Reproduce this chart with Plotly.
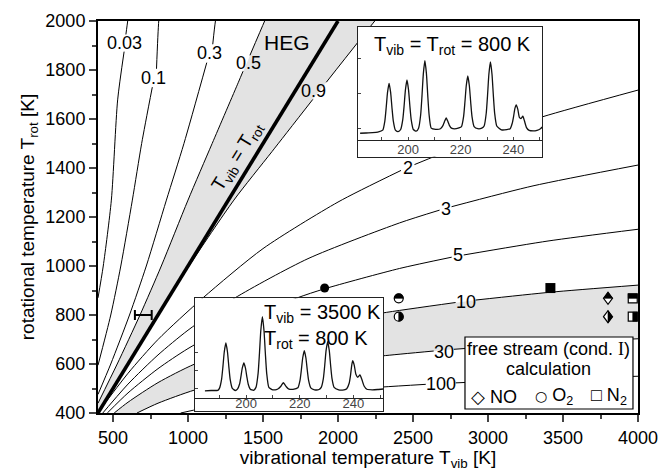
import plotly.graph_objects as go

FONT = "Liberation Sans, Arial, sans-serif"
BAND = "#e3e3e3"

# ---- iso-ratio curves, (T_vib, T_rot) in K; None leaves room for the label ----
r003_tv = [400, 435, 489, 531, 574, None, 586, 598, 610]
r003_tr = [870, 1000, 1269, 1678, 1875, None, 1945, 2000, 2050]
r01_tv = [400, 485, 552, 629, 691, 762, None, 790, 805, 820]
r01_tr = [595, 800, 1000, 1269, 1500, 1730, None, 1805, 2000, 2080]
r03_tv = [400, 485, 610, 722, 856, 973, 1125, None, 1165, 1183, 1200]
r03_tr = [476, 600, 800, 1000, 1269, 1500, 1830, None, 1905, 2000, 2050]
r05_tv = [400, 528, 680, 822, 1000, 1161, 1336, 1367, None, 1413, 1511, 1550]
r05_tr = [440, 600, 800, 1000, 1269, 1500, 1750, 1795, None, 1860, 2000, 2055]
r09_tv = [400, 700, 1005, 1306, 1560, 1832, None, 1922, 2245, 2310]
r09_tr = [400, 697, 998, 1269, 1467, 1680, None, 1750, 2000, 2050]
r2_tv = [400, 600, 800, 1098, 1500, 2000, 2420, None, 2510, 3000, 3363, 4000]
r2_tr = [402, 562, 700, 869, 1071, 1261, 1390, None, 1414, 1534, 1609, 1718]
r3_tv = [400, 600, 800, 1000, 1311, 1800, 2411, 2677, None, 2757, 3300, 4000]
r3_tr = [377, 518, 637, 738, 869, 1030, 1176, 1228, None, 1242, 1327, 1412]
r5_tv = [462, 600, 800, 1000, 1300, 1724, 1911, 2411, 2758, None, 2838, 3400, 4000]
r5_tr = [400, 482, 581, 663, 762, 869, 907, 990, 1036, None, 1045, 1102, 1150]
r10_tv = [508, 600, 800, 1045, 1500, 2000, 2295, 2784, None, 2918, 3416, 4000]
r10_tr = [400, 444, 524, 600, 700, 775, 808, 851, None, 861, 893, 922]
r30_tv = [660, 800, 1045, 1500, 2000, 2295, 2638, None, 2772, 3300, 4000]
r30_tr = [400, 440, 494, 563, 612, 633, 653, None, 660, 682, 703]
r100_tv = [951, 1200, 1600, 2000, 2295, 2585, None, 2785, 3500, 4000]
r100_tr = [400, 432, 468, 492, 506, 517, None, 523, 541, 550]

label_text = ["0.03", "0.1", "0.3", "0.5", "0.9", "2", "3", "5", "10", "30", "100"]
label_tv = [579, 772, 1145, 1400, 1838, 2464, 2717, 2798, 2851, 2705, 2685]
label_tr = [1910, 1768, 1868, 1827, 1714, 1398, 1233, 1044, 854, 649, 518]

# equilibrium line T_vib = T_rot
diag_t = [400, 2000]

# HEG point with its T_vib uncertainty
heg_tv = [702]
heg_tr = [800]
heg_err = [56]

# free stream, filled symbols
o2_free_tv, o2_free_tr = [1911], [910]
n2_free_tv, n2_free_tr = [3416], [910]
# half-filled symbols: marker kind, T_vib, T_rot, black half
half_kind = ["circle", "circle", "diamond", "diamond", "square", "square"]
half_tv = [2405, 2405, 3800, 3800, 3965, 3965]
half_tr = [868, 793, 868, 793, 868, 793]
half_side = ["top", "right", "top", "right", "top", "right"]

# ---- inset spectra (wavelength nm, relative intensity) ----
spec_800_wl = [181.8, 184.0, 186.5, 188.5,
               190.4, 191.2, 191.7, 192.2, 192.8, 193.4, 193.9, 194.4, 195.2, 196.2,
               197.2, 198.0, 198.5, 199.0, 199.6, 200.2, 200.7, 201.2, 202.0, 203.1,
               204.0, 204.8, 205.3, 205.8, 206.4, 207.0, 207.5, 208.0, 208.8, 210.5,
               212.3, 213.3, 213.8, 214.5, 215.2, 215.7, 216.5, 218.3,
               220.3, 221.1, 221.6, 222.1, 222.7, 223.3, 223.8, 224.3, 225.1, 226.5, 228.0,
               228.9, 229.7, 230.2, 230.7, 231.3, 231.9, 232.4, 232.9, 233.7, 235.5, 237.5,
               238.8, 239.6, 240.1, 240.6, 241.1, 241.7, 242.3, 242.9, 243.6, 244.2, 245.0,
               246.0, 247.5, 249.0, 250.3, 251.0]
spec_800_i = [0.060, 0.062, 0.065, 0.070,
              0.087, 0.169, 0.285, 0.418, 0.500, 0.418, 0.285, 0.169, 0.087, 0.075,
              0.093, 0.180, 0.300, 0.440, 0.530, 0.440, 0.300, 0.180, 0.093, 0.078,
              0.105, 0.223, 0.390, 0.582, 0.700, 0.582, 0.390, 0.223, 0.105, 0.095,
              0.100, 0.130, 0.160, 0.195, 0.160, 0.130, 0.105, 0.100,
              0.119, 0.207, 0.333, 0.477, 0.565, 0.477, 0.333, 0.207, 0.119, 0.100, 0.105,
              0.124, 0.236, 0.395, 0.578, 0.690, 0.578, 0.395, 0.236, 0.124, 0.090, 0.092,
              0.100, 0.150, 0.210, 0.280, 0.310, 0.270, 0.200, 0.190, 0.210, 0.170, 0.110,
              0.085, 0.080, 0.085, 0.100, 0.115]

spec_3500_wl = [184.7, 187.0, 189.5,
                190.1, 190.9, 191.4, 191.9, 192.5, 193.1, 193.6, 194.1, 194.9, 196.0,
                196.8, 197.6, 198.1, 198.6, 199.2, 199.8, 200.3, 200.8, 201.6, 202.8,
                203.7, 204.5, 205.0, 205.5, 206.1, 206.7, 207.2, 207.7, 208.5, 210.0, 211.6,
                212.0, 212.8, 213.3, 213.9, 214.5, 215.0, 215.8, 217.5,
                219.3, 220.1, 220.6, 221.1, 221.7, 222.3, 222.8, 223.3, 224.1, 225.5, 227.2,
                228.0, 228.8, 229.3, 229.8, 230.4, 231.0, 231.5, 232.0, 232.8, 234.5, 236.5,
                237.5, 238.4, 238.9, 239.3, 239.7, 240.3, 240.9, 241.6, 242.4, 243.1, 244.0,
                245.0, 247.0, 249.0, 251.0]
spec_3500_i = [0.075, 0.078, 0.080,
               0.099, 0.189, 0.317, 0.463, 0.553, 0.463, 0.317, 0.189, 0.099, 0.078,
               0.091, 0.143, 0.217, 0.301, 0.353, 0.301, 0.217, 0.143, 0.091, 0.080,
               0.109, 0.249, 0.448, 0.676, 0.816, 0.676, 0.448, 0.249, 0.109, 0.085, 0.090,
               0.095, 0.115, 0.135, 0.156, 0.135, 0.115, 0.095, 0.090,
               0.105, 0.179, 0.283, 0.403, 0.476, 0.403, 0.283, 0.179, 0.105, 0.085, 0.088,
               0.109, 0.200, 0.328, 0.476, 0.566, 0.476, 0.328, 0.200, 0.109, 0.085, 0.085,
               0.095, 0.150, 0.230, 0.320, 0.376, 0.330, 0.240, 0.210, 0.233, 0.190, 0.120,
               0.090, 0.085, 0.088, 0.093]

wl_range = [181, 251]
wl_ticks = [200, 220, 240]
wl_minor = [190, 200, 210, 220, 230, 240, 250]
int_ticks_800 = [0.1, 0.41, 0.72]
int_ticks_3500 = [0.1, 0.28, 0.46]

x_ticks = [500, 1000, 1500, 2000, 2500, 3000, 3500, 4000]
x_minor = [750, 1250, 1750, 2250, 2750, 3250, 3750]
y_ticks = [400, 600, 800, 1000, 1200, 1400, 1600, 1800, 2000]
y_minor = [500, 700, 900, 1100, 1300, 1500, 1700, 1900]


def solid(a):
    return [v for v in a if v is not None]


fig = go.Figure()

# shaded bands
for lo_tv, lo_tr, hi_tv, hi_tr in [(r05_tv, r05_tr, r09_tv, r09_tr),
                                   (r10_tv, r10_tr, r30_tv, r30_tr)]:
    fig.add_trace(go.Scatter(
        x=solid(lo_tv) + solid(hi_tv)[::-1], y=solid(lo_tr) + solid(hi_tr)[::-1],
        fill="toself", fillcolor=BAND, mode="lines", line=dict(width=0),
        hoverinfo="skip", showlegend=False))

# iso-ratio curves
for tv, tr in [(r003_tv, r003_tr), (r01_tv, r01_tr), (r03_tv, r03_tr), (r05_tv, r05_tr),
               (r09_tv, r09_tr), (r2_tv, r2_tr), (r3_tv, r3_tr), (r5_tv, r5_tr),
               (r10_tv, r10_tr), (r30_tv, r30_tr), (r100_tv, r100_tr)]:
    fig.add_trace(go.Scatter(x=tv, y=tr, mode="lines",
                             line=dict(color="black", width=1, shape="spline", smoothing=0.7),
                             hoverinfo="skip", showlegend=False))

fig.add_trace(go.Scatter(x=diag_t, y=diag_t, mode="lines",
                         line=dict(color="black", width=3.6), showlegend=False))

fig.add_trace(go.Scatter(x=heg_tv, y=heg_tr, mode="markers",
                         marker=dict(size=1, color="black"),
                         error_x=dict(type="data", array=heg_err, thickness=2, width=5,
                                      color="black"), showlegend=False))

fig.add_trace(go.Scatter(x=o2_free_tv, y=o2_free_tr, mode="markers",
                         marker=dict(symbol="circle", size=9, color="black"), showlegend=False))
fig.add_trace(go.Scatter(x=n2_free_tv, y=n2_free_tr, mode="markers",
                         marker=dict(symbol="square", size=10, color="black"), showlegend=False))

# inset spectra
fig.add_trace(go.Scatter(x=spec_800_wl, y=spec_800_i, xaxis="x2", yaxis="y2", mode="lines",
                         line=dict(color="#111", width=1.3, shape="spline", smoothing=0.5),
                         showlegend=False))
fig.add_trace(go.Scatter(x=[wl_range[0]], y=[-5], xaxis="x3", yaxis="y2", mode="markers",
                         marker=dict(opacity=0), hoverinfo="skip", showlegend=False))
fig.add_trace(go.Scatter(x=spec_3500_wl, y=spec_3500_i, xaxis="x4", yaxis="y4", mode="lines",
                         line=dict(color="#111", width=1.3, shape="spline", smoothing=0.5),
                         showlegend=False))
fig.add_trace(go.Scatter(x=[wl_range[0]], y=[-5], xaxis="x5", yaxis="y4", mode="markers",
                         marker=dict(opacity=0), hoverinfo="skip", showlegend=False))

# half-filled symbols drawn as pixel-sized paths around each data point
K = 0.5523
R = 4.5


def outline(kind):
    if kind == "circle":
        k = K * R
        return (f"M {-R},0 C {-R},{k} {-k},{R} 0,{R} C {k},{R} {R},{k} {R},0 "
                f"C {R},{-k} {k},{-R} 0,{-R} C {-k},{-R} {-R},{-k} {-R},0 Z")
    if kind == "diamond":
        return f"M {-R},0 L 0,{R + 1.5} L {R},0 L 0,{-R - 1.5} Z"
    return f"M {-R},{-R} L {-R},{R} L {R},{R} L {R},{-R} Z"


def half(kind, side):
    if kind == "circle":
        k = K * R
        if side == "top":
            return f"M {-R},0 C {-R},{k} {-k},{R} 0,{R} C {k},{R} {R},{k} {R},0 Z"
        return f"M 0,{-R} C {k},{-R} {R},{-k} {R},0 C {R},{k} {k},{R} 0,{R} Z"
    if kind == "diamond":
        if side == "top":
            return f"M {-R},0 L 0,{R + 1.5} L {R},0 Z"
        return f"M 0,{R + 1.5} L {R},0 L 0,{-R - 1.5} Z"
    if side == "top":
        return f"M {-R},0 L {-R},{R} L {R},{R} L {R},0 Z"
    return f"M 0,{-R} L {R},{-R} L {R},{R} L 0,{R} Z"


shapes = []
for kind, tv, tr, side in zip(half_kind, half_tv, half_tr, half_side):
    common = dict(type="path", xref="x", yref="y", xsizemode="pixel", ysizemode="pixel",
                  xanchor=tv, yanchor=tr, layer="above")
    shapes.append(dict(common, path=outline(kind), fillcolor="white",
                       line=dict(color="black", width=1.2)))
    shapes.append(dict(common, path=half(kind, side), fillcolor="black",
                       line=dict(color="black", width=0.6)))

# legend box
shapes.append(dict(type="rect", xref="paper", yref="paper", x0=0.6796, x1=0.9907,
                   y0=0.0102, y1=0.1939, fillcolor="white",
                   line=dict(color="black", width=1.2), layer="above"))


def note(x, y, text, size, xref="paper", yref="paper", xanchor="center", **kw):
    return dict(x=x, y=y, xref=xref, yref=yref, text=text, showarrow=False,
                xanchor=xanchor, yanchor="middle", font=dict(size=size, color="black"), **kw)


annotations = [note(tv, tr, txt, 18, "x", "y")
               for txt, tv, tr in zip(label_text, label_tv, label_tr)]

annotations += [
    note(1661, 1912, "HEG", 21, "x", "y"),
    note(1329, 1445, "T<sub>vib</sub> = T<sub>rot</sub>", 19, "x", "y", textangle=-58.5),
    note(0.515, 0.855, "T<sub>vib</sub> = T<sub>rot</sub> = 800 K", 20,
         "x2 domain", "y2 domain"),
    note(0.355, 0.865, "T<sub>vib</sub> = 3500 K", 20, "x4 domain", "y4 domain",
         xanchor="left"),
    note(0.355, 0.635, "T<sub>rot</sub> = 800 K", 20, "x4 domain", "y4 domain",
         xanchor="left"),
    note(0.835, 0.163,
         "free stream (cond. <span style='font-family:Liberation Serif'>I</span>)", 18),
    note(0.835, 0.112, "calculation", 18),
    note(0.733, 0.041, "\u25c7 NO", 18),
    note(0.844, 0.041,
         "<span style='font-family:DejaVu Sans;font-size:14px'>\u25cb</span> O<sub>2</sub>",
         18),
    note(0.946, 0.041, "\u25a1 N<sub>2</sub>", 18),
]

inset_frame = dict(showline=True, mirror=True, linecolor="#222", linewidth=1.2,
                   showgrid=False, zeroline=False)

fig.update_layout(
    template="none",
    width=665, height=471,
    margin=dict(l=98, r=27, t=21, b=58),
    paper_bgcolor="white", plot_bgcolor="white",
    font=dict(family=FONT, color="black"),
    showlegend=False,
    xaxis=dict(range=[400, 4000], showline=True, mirror=True, linecolor="black", linewidth=2,
               showgrid=False, zeroline=False, ticks="outside", ticklen=7, tickwidth=1.5,
               tickvals=x_ticks, tickfont=dict(size=18),
               minor=dict(ticks="outside", ticklen=4, tickwidth=1.5, tickvals=x_minor),
               title=dict(text="vibrational temperature T<sub>vib</sub> [K]",
                          font=dict(size=19), standoff=6)),
    yaxis=dict(range=[400, 2000], showline=True, mirror=True, linecolor="black", linewidth=2,
               showgrid=False, zeroline=False, ticks="outside", ticklen=7, tickwidth=1.5,
               tickvals=y_ticks, tickfont=dict(size=18),
               minor=dict(ticks="outside", ticklen=4, tickwidth=1.5, tickvals=y_minor),
               title=dict(text="rotational temperature T<sub>rot</sub> [K]",
                          font=dict(size=19), standoff=6)),
    xaxis2=dict(inset_frame, domain=[0.4815, 0.8228], anchor="y2", range=wl_range,
                ticks="", tickvals=wl_ticks, ticklabelposition="inside",
                tickfont=dict(size=13)),
    yaxis2=dict(inset_frame, domain=[0.6538, 0.9855], anchor="x2", range=[-0.147, 1.0],
                ticks="inside", ticklen=3, tickvals=int_ticks_800, showticklabels=False),
    xaxis3=dict(overlaying="x2", anchor="free", position=0.6964, range=wl_range,
                showline=True, linecolor="#222", linewidth=1.2, showgrid=False,
                zeroline=False, ticks="inside", ticklen=3, tickvals=wl_minor,
                showticklabels=False),
    xaxis4=dict(inset_frame, domain=[0.1796, 0.5278], anchor="y4", range=wl_range,
                ticks="", tickvals=wl_ticks, ticklabelposition="inside",
                tickfont=dict(size=13)),
    yaxis4=dict(inset_frame, domain=[0.0059, 0.2926], anchor="x4", range=[-0.124, 1.0],
                ticks="inside", ticklen=3, tickvals=int_ticks_3500, showticklabels=False),
    xaxis5=dict(overlaying="x4", anchor="free", position=0.0375, range=wl_range,
                showline=True, linecolor="#222", linewidth=1.2, showgrid=False,
                zeroline=False, ticks="inside", ticklen=3, tickvals=wl_minor,
                showticklabels=False),
    shapes=shapes,
    annotations=annotations,
)

fig.write_html("out.html")
